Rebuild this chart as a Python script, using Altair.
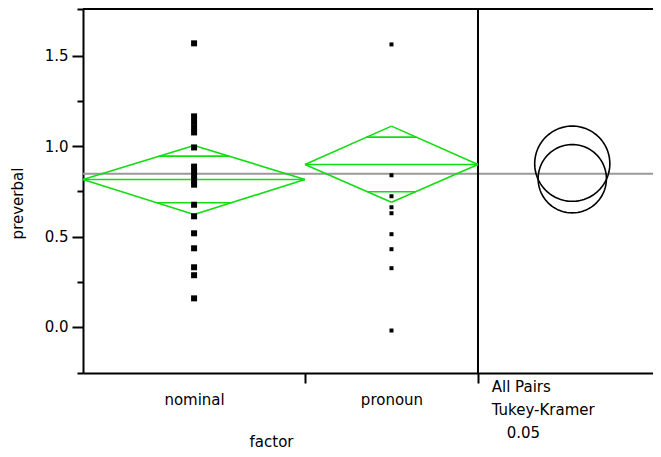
import altair as alt
import numpy as np
import pandas as pd

# ---- data ----
groups = ["nominal", "pronoun"]
group_left = [0.0, 1.229]
group_right = [1.229, 2.187]
group_center = [0.615, 1.708]
means = [0.816, 0.899]
ci_upper = [1.004, 1.111]
ci_lower = [0.622, 0.690]
overlap_upper = [0.945, 1.050]
overlap_lower = [0.687, 0.748]
grand_mean = 0.847

nominal_values = [1.569, 1.165, 1.135, 1.105, 1.076, 0.993, 0.887, 0.860,
                  0.835, 0.810, 0.787, 0.676, 0.612, 0.518, 0.435, 0.330,
                  0.286, 0.158]
pronoun_values = [1.563, 0.839, 0.723, 0.662, 0.629, 0.513, 0.430, 0.325, -0.020]

circle_names = ["nominal", "pronoun"]
circle_centers = [0.820, 0.903]
circle_radii = [0.189, 0.208]
circle_x = 2.709

divider_x = 2.187
x_min, x_max = 0.0, 3.156
y_min, y_max = -0.255, 1.759
y_ticks = [-0.255, 0.0, 0.25, 0.5, 0.75, 1.0, 1.25, 1.5, 1.759]

caption_text = ["All Pairs", "Tukey-Kramer", "0.05"]
caption_indent = [0, 0, 15]
caption_row = [0, 1, 2]

FONT = "DejaVu Sans"
GREEN = "#11dd11"

# ---- build tables ----
seg_rows = []
for g, l, r, c, m, hi, lo, ohi, olo in zip(groups, group_left, group_right, group_center,
                                          means, ci_upper, ci_lower, overlap_upper, overlap_lower):
    seg_rows += [
        dict(x=l, y=m, x2=c, y2=hi),
        dict(x=c, y=hi, x2=r, y2=m),
        dict(x=r, y=m, x2=c, y2=lo),
        dict(x=c, y=lo, x2=l, y2=m),
        dict(x=l, y=m, x2=r, y2=m),
    ]
    half = (r - l) / 2
    for ov, ci in ((ohi, hi), (olo, lo)):
        w = half * (1 - (ov - m) / (ci - m))
        seg_rows.append(dict(x=c - w, y=ov, x2=c + w, y2=ov))
seg_df = pd.DataFrame(seg_rows)

pts_nom = pd.DataFrame({"x": group_center[0], "y": nominal_values})
pts_pro = pd.DataFrame({"x": group_center[1], "y": pronoun_values})

t = np.linspace(0, 2 * np.pi, 121)
circ_rows = []
for name, cy, r in zip(circle_names, circle_centers, circle_radii):
    for i, a in enumerate(t):
        circ_rows.append(dict(name=name, i=i, x=circle_x + r * np.cos(a), y=cy + r * np.sin(a)))
circ_df = pd.DataFrame(circ_rows)

frame_df = pd.DataFrame([
    dict(kind="mean", x=x_min, x2=x_max, y=grand_mean, y2=grand_mean),
    dict(kind="top", x=x_min, x2=x_max, y=y_max, y2=y_max),
    dict(kind="divider", x=divider_x, x2=divider_x, y=y_min, y2=y_max),
])

is_major = "(abs(datum.value*2 - round(datum.value*2)) < 0.001 && datum.value > -0.1 && datum.value < 1.6)"

x_label_expr = " : ".join(
    f"abs(datum.value - {c}) < 0.01 ? '{g}'" for g, c in zip(groups, group_center)
) + " : ''"

xscale = alt.Scale(domain=[x_min, x_max], nice=False, zero=False)
yscale = alt.Scale(domain=[y_min, y_max], nice=False, zero=False)

xaxis = alt.Axis(
    values=[group_center[0], group_right[0], group_center[1], group_right[1]],
    labelExpr=x_label_expr, labelOverlap=False, labelFlush=False,
    tickSize=10, tickWidth=2, tickColor="black",
    tickOpacity={"condition": {"test": "datum.value > 2.1 || abs(datum.value - 1.229) < 0.01", "value": 1}, "value": 0},
    domainColor="black", domainWidth=2, grid=False,
    labelFont=FONT, labelFontSize=15, labelColor="black", labelPadding=9,
    title="factor", titleFont=FONT, titleFontSize=15, titleFontWeight="normal",
    titleColor="black", titleX=188, titleY=73, titleBaseline="alphabetic", titleAnchor="start",
    titleAlign="center",
)
yaxis = alt.Axis(
    values=y_ticks, labelExpr=f"{is_major} ? format(datum.value, '.1f') : ''",
    labelOverlap=False, labelFlush=False,
    tickSize={"condition": {"test": is_major, "value": 11}, "value": 6},
    tickWidth=2, tickColor="black",
    domainColor="black", domainWidth=2, grid=False,
    labelFont=FONT, labelFontSize=15, labelColor="black", labelPadding=4,
    title="preverbal", titleFont=FONT, titleFontSize=15, titleFontWeight="normal",
    titleColor="black", titleX=-66, titleY=194, titleAngle=270,
    titleBaseline="middle", titleAlign="center", titleAnchor="start",
)

X = alt.X("x:Q", scale=xscale, axis=xaxis)
Y = alt.Y("y:Q", scale=yscale, axis=yaxis)

frame_layer = alt.Chart(frame_df).mark_rule(strokeWidth=2).encode(
    x=X, y=Y, x2="x2:Q", y2="y2:Q",
    color=alt.Color("kind:N", scale=alt.Scale(domain=["mean", "top", "divider"],
                                             range=["#9a9a9a", "black", "black"]), legend=None),
)

diamonds = alt.Chart(seg_df).mark_rule(color=GREEN, strokeWidth=1.6).encode(
    x=X, y=Y, x2="x2:Q", y2="y2:Q"
)

nom_layer = alt.Chart(pts_nom).mark_square(size=36, color="black", opacity=1).encode(x=X, y=Y)
pro_layer = alt.Chart(pts_pro).mark_square(size=16, color="black", opacity=1).encode(x=X, y=Y)

circles = alt.Chart(circ_df).mark_line(color="black", strokeWidth=1.6).encode(
    x=X, y=Y, detail="name:N", order="i:Q"
)

cap_df = pd.DataFrame({"t": caption_text, "indent": caption_indent, "row": caption_row})
caption = alt.Chart(cap_df).transform_calculate(
    x=f"2.263 + datum.indent / 180.6",
    py="377.7 + datum.row * 23.3",
).mark_text(
    align="left", baseline="middle", font=FONT, fontSize=15, color="black",
).encode(x=X, y=alt.Y("py:Q", scale=None), text="t:N")

chart = alt.layer(frame_layer, diamonds, nom_layer, pro_layer, circles, caption).properties(
    width=570, height=364,
    padding={"left": 75, "top": 1, "right": 0, "bottom": 76},
    autosize=alt.AutoSizeParams(type="none"),
).configure_view(stroke=None).configure(background="white")

chart.save("out.html", embed_options={"renderer": "svg", "actions": False})
